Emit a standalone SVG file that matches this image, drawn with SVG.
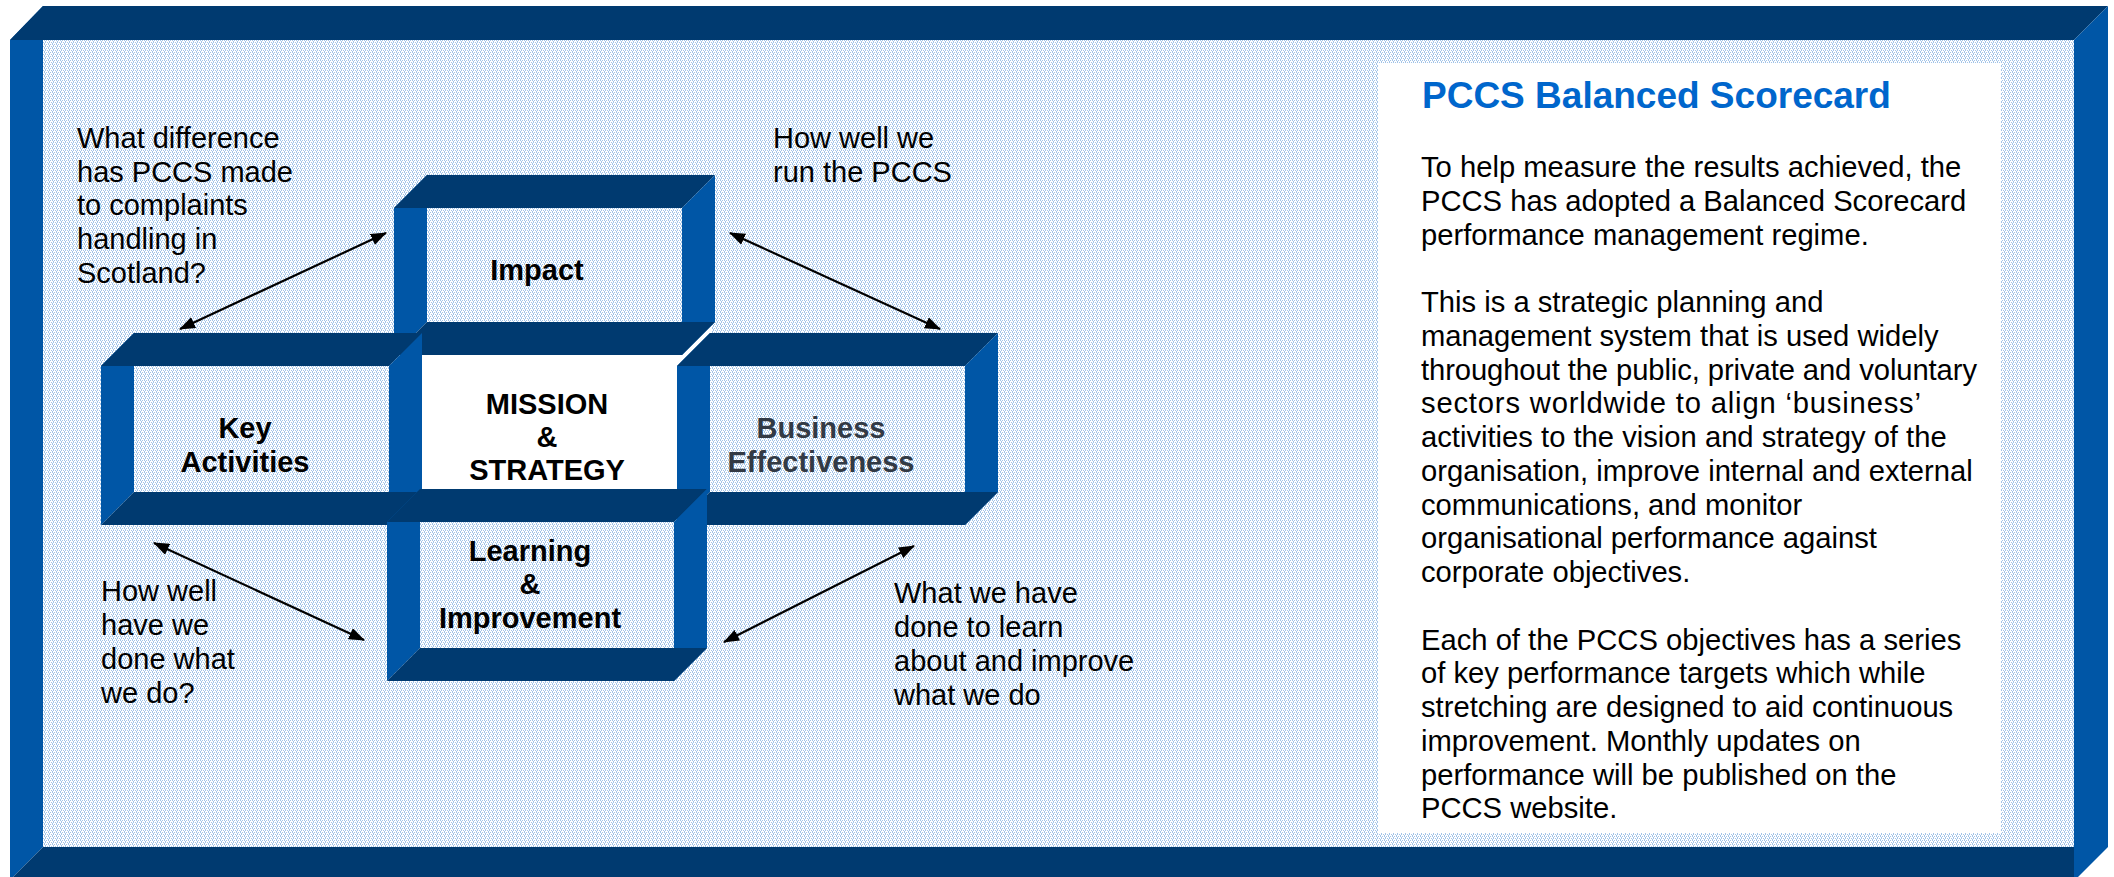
<svg xmlns="http://www.w3.org/2000/svg" width="2114" height="877" viewBox="0 0 2114 877">
  <defs>
    <pattern id="dither" width="4" height="4" patternUnits="userSpaceOnUse">
      <rect width="4" height="4" fill="#ffffff"/>
      <path d="M0 0h1v1h-1zM2 0h1v1h-1zM1 1h1v1h-1zM3 2h1v1h-1zM1 2h1v1h-1zM0 3h1v1h-1z" fill="#a3c4e8"/>
    </pattern>
    <marker id="head" viewBox="0 0 16 12" refX="15" refY="6" markerWidth="16" markerHeight="12" markerUnits="userSpaceOnUse" orient="auto-start-reverse">
      <path d="M0 0L16 6L0 12z" fill="#000"/>
    </marker>
    <style>
      .dark { fill: #003a70; }
      .mid { fill: #0056a6; }
      .panel { fill: url(#dither); }
      .lbl { font-family: "Liberation Sans", Arial, sans-serif; font-size: 29px; font-weight: bold; fill: #000; text-anchor: middle; }
      .note { font-family: "Liberation Sans", Arial, sans-serif; font-size: 29px; fill: #000; }
      .body { font-family: "Liberation Sans", Arial, sans-serif; font-size: 29.2px; fill: #000; }
      .title { font-family: "Liberation Sans", Arial, sans-serif; font-size: 37px; font-weight: bold; fill: #0066cc; }
      .conn { stroke: #000; stroke-width: 2.2; fill: none; marker-start: url(#head); marker-end: url(#head); }
    </style>
  </defs>

  <rect width="2114" height="877" fill="#ffffff"/>

  <!-- outer bevelled frame -->
  <g id="frame">
    <rect x="43" y="40" width="2031" height="807" class="panel"/>
    <polygon class="mid" points="10,40 43,6 43,847 10,880"/>
    <polygon class="dark" points="10,40 43,6 2108,6 2074,40"/>
    <polygon class="mid" points="2074,40 2108,6 2108,847 2078,877 2074,877"/>
    <polygon class="dark" points="43,847 2074,847 2074,877 13,877"/>
  </g>

  <!-- explanatory text panel -->
  <g id="scorecard-text">
    <rect x="1378" y="63" width="623" height="770" fill="#ffffff"/>
    <text class="title" x="1422" y="108">PCCS Balanced Scorecard</text>
    <text class="body" x="1421">
      <tspan x="1421" y="177">To help measure the results achieved, the</tspan>
      <tspan x="1421" y="210.75">PCCS has adopted a Balanced Scorecard</tspan>
      <tspan x="1421" y="244.5">performance management regime.</tspan>
      <tspan x="1421" y="312">This is a strategic planning and</tspan>
      <tspan x="1421" y="345.75">management system that is used widely</tspan>
    </text>
    <text class="body" x="1421" y="379.5" textLength="556" lengthAdjust="spacing">throughout the public, private and voluntary</text>
    <text class="body" x="1421" y="413.25" textLength="500" lengthAdjust="spacing">sectors worldwide to align ‘business’</text>
    <text class="body" x="1421">
      <tspan x="1421" y="447">activities to the vision and strategy of the</tspan>
      <tspan x="1421" y="480.75">organisation, improve internal and external</tspan>
      <tspan x="1421" y="514.5">communications, and monitor</tspan>
      <tspan x="1421" y="548.25">organisational performance against</tspan>
      <tspan x="1421" y="582">corporate objectives.</tspan>
      <tspan x="1421" y="649.5">Each of the PCCS objectives has a series</tspan>
      <tspan x="1421" y="683.25">of key performance targets which while</tspan>
      <tspan x="1421" y="717">stretching are designed to aid continuous</tspan>
      <tspan x="1421" y="750.75">improvement. Monthly updates on</tspan>
      <tspan x="1421" y="784.5">performance will be published on the</tspan>
      <tspan x="1421" y="818.25">PCCS website.</tspan>
    </text>
  </g>

  <!-- centre: mission and strategy -->
  <g id="mission">
    <rect x="410" y="322" width="302" height="178" fill="#ffffff"/>
    <text class="lbl" x="547" y="414">MISSION</text>
    <text class="lbl" x="547" y="447">&amp;</text>
    <text class="lbl" x="547" y="480">STRATEGY</text>
  </g>

  <!-- box: front (x0,y0)-(x1,y1), depth 33 up-right -->
  <g id="impact">
    <rect class="panel" x="427" y="208" width="255" height="114"/>
    <polygon class="mid" points="394,208 427,175 427,322 394,355"/>
    <polygon class="dark" points="394,208 427,175 715,175 682,208"/>
    <polygon class="mid" points="682,208 715,175 715,322 682,355"/>
    <polygon class="dark" points="394,355 427,322 715,322 682,355"/>
    <text class="lbl" x="537" y="280">Impact</text>
  </g>

  <g id="key-activities">
    <rect class="panel" x="134" y="366" width="255" height="126"/>
    <polygon class="mid" points="101,366 134,333 134,492 101,525"/>
    <polygon class="dark" points="101,366 134,333 422,333 389,366"/>
    <polygon class="mid" points="389,366 422,333 422,492 389,525"/>
    <polygon class="dark" points="101,525 134,492 422,492 389,525"/>
    <text class="lbl" x="245" y="438">Key</text>
    <text class="lbl" x="245" y="472">Activities</text>
  </g>

  <g id="business-effectiveness">
    <rect class="panel" x="710" y="366" width="255" height="126"/>
    <polygon class="mid" points="677,366 710,333 710,492 677,525"/>
    <polygon class="dark" points="677,366 710,333 998,333 965,366"/>
    <polygon class="mid" points="965,366 998,333 998,492 965,525"/>
    <polygon class="dark" points="677,525 710,492 998,492 965,525"/>
    <text class="lbl" x="821" y="438" style="fill:#323a45">Business</text>
    <text class="lbl" x="821" y="472" style="fill:#323a45">Effectiveness</text>
  </g>

  <g id="learning-improvement">
    <rect class="panel" x="420" y="522" width="254" height="126"/>
    <polygon class="mid" points="387,522 420,489 420,648 387,681"/>
    <polygon class="dark" points="387,522 420,489 707,489 674,522"/>
    <polygon class="mid" points="674,522 707,489 707,648 674,681"/>
    <polygon class="dark" points="387,681 420,648 707,648 674,681"/>
    <text class="lbl" x="530" y="561">Learning</text>
    <text class="lbl" x="530" y="594">&amp;</text>
    <text class="lbl" x="530" y="628">Improvement</text>
  </g>

  <!-- perspective questions -->
  <g id="notes">
    <text class="note">
      <tspan x="77" y="148">What difference</tspan>
      <tspan x="77" y="182">has PCCS made</tspan>
      <tspan x="77" y="215">to complaints</tspan>
      <tspan x="77" y="249">handling in</tspan>
      <tspan x="77" y="283">Scotland?</tspan>
    </text>
    <text class="note">
      <tspan x="773" y="148">How well we</tspan>
      <tspan x="773" y="182">run the PCCS</tspan>
    </text>
    <text class="note">
      <tspan x="101" y="601">How well</tspan>
      <tspan x="101" y="635">have we</tspan>
      <tspan x="101" y="669">done what</tspan>
      <tspan x="101" y="703">we do?</tspan>
    </text>
    <text class="note">
      <tspan x="894" y="603">What we have</tspan>
      <tspan x="894" y="637">done to learn</tspan>
      <tspan x="894" y="671">about and improve</tspan>
      <tspan x="894" y="705">what we do</tspan>
    </text>
  </g>

  <!-- double-headed connectors -->
  <g id="connectors">
    <line class="conn" x1="180" y1="329" x2="386" y2="233"/>
    <line class="conn" x1="730" y1="233" x2="940" y2="329"/>
    <line class="conn" x1="154" y1="543" x2="364" y2="640"/>
    <line class="conn" x1="914" y1="546" x2="724" y2="642"/>
  </g>
</svg>
